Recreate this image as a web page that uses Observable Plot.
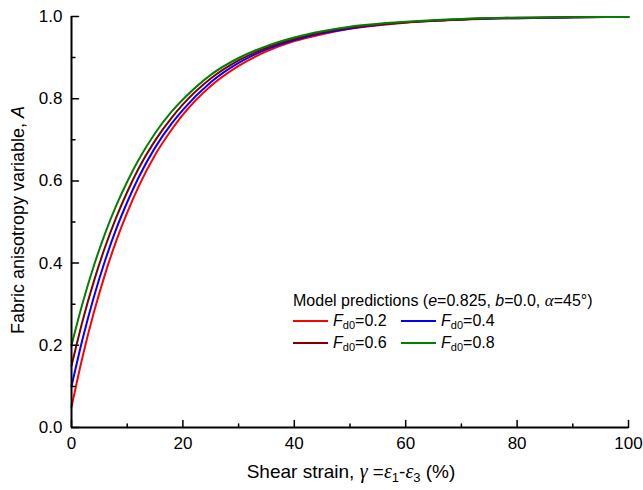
<!DOCTYPE html>
<html><head><meta charset="utf-8">
<script src="https://cdn.jsdelivr.net/npm/d3@7"></script>
<script src="https://cdn.jsdelivr.net/npm/@observablehq/plot@0.6"></script>
<style>
body{margin:0;background:#fff}
#chart{position:relative;width:643px;height:490px}
</style>
</head><body><div id="chart"></div>
<script>
// Shear strain (%) sample positions
const strain = [0,2,4,6,8,10,12,15,18,20,25,30,35,40,45,50,60,70,80,90,100];
// Fabric anisotropy variable A for each initial Fd0
const A_Fd0_02 = [0.050,0.173,0.279,0.372,0.453,0.523,0.585,0.663,0.725,0.761,0.831,0.880,0.915,0.940,0.957,0.970,0.985,0.992,0.996,0.998,0.999];
const A_Fd0_04 = [0.100,0.216,0.317,0.405,0.482,0.548,0.607,0.681,0.740,0.773,0.840,0.887,0.920,0.943,0.960,0.971,0.986,0.993,0.996,0.998,0.999];
const A_Fd0_06 = [0.150,0.260,0.355,0.438,0.510,0.573,0.629,0.698,0.754,0.786,0.849,0.893,0.924,0.946,0.962,0.973,0.986,0.993,0.997,0.998,0.999];
const A_Fd0_08 = [0.200,0.303,0.393,0.471,0.539,0.598,0.650,0.716,0.769,0.798,0.858,0.899,0.928,0.949,0.964,0.975,0.987,0.994,0.997,0.998,0.999];
const seriesLabels = ["0.2","0.4","0.6","0.8"];
const seriesColors = ["#ff0000","#0000ff","#800000","#008000"];
const xMajor = [0,20,40,60,80,100];
const xMinor = [10,30,50,70,90];
const yMajor = [0,0.2,0.4,0.6,0.8,1.0];
const yMinor = [0.1,0.3,0.5,0.7,0.9];

const allSeries = [A_Fd0_02, A_Fd0_04, A_Fd0_06, A_Fd0_08];
const data = [];
allSeries.forEach((vals, i) => vals.forEach((v, j) => data.push({x: strain[j], y: v, s: seriesLabels[i]})));

const tickShape = {draw(ctx, l){ ctx.moveTo(0,0); ctx.lineTo(0,-l); }};
const FONT = "'Liberation Sans', Arial, Helvetica, sans-serif";

const plot = Plot.plot({
  width: 643, height: 490,
  marginLeft: 71, marginRight: 15, marginTop: 16, marginBottom: 63,
  style: {fontFamily: FONT, fontSize: "17px", color: "#000", background: "#fff"},
  x: {domain: [0,100]},
  y: {domain: [0,1]},
  color: {domain: seriesLabels, range: seriesColors},
  marks: [
    Plot.line(data, {x: "x", y: "y", stroke: "s", z: "s", strokeWidth: 2, curve: "monotone-x"}),
    Plot.ruleY([0], {stroke: "#000", strokeWidth: 2}),
    Plot.ruleX([0], {stroke: "#000", strokeWidth: 2}),
    Plot.vector(xMajor, {x: d => d, y: () => 0, length: 7, rotate: 0, anchor: "start", shape: tickShape, stroke: "#000", strokeWidth: 1.5}),
    Plot.vector(xMinor, {x: d => d, y: () => 0, length: 3.5, rotate: 0, anchor: "start", shape: tickShape, stroke: "#000", strokeWidth: 1.5}),
    Plot.vector(yMajor, {x: () => 0, y: d => d, length: 7, rotate: 90, anchor: "start", shape: tickShape, stroke: "#000", strokeWidth: 1.5}),
    Plot.vector(yMinor, {x: () => 0, y: d => d, length: 3.5, rotate: 90, anchor: "start", shape: tickShape, stroke: "#000", strokeWidth: 1.5}),
    Plot.axisX({ticks: xMajor, tickSize: 0, tickPadding: 9, label: null, tickFormat: d3.format("d"), fontSize: 17}),
    Plot.axisY({ticks: yMajor, tickSize: 0, tickPadding: 9, label: null, tickFormat: d3.format(".1f"), fontSize: 17})
  ]
});
document.getElementById("chart").appendChild(plot);

const svg = d3.select(plot);
const SERIF = "'Liberation Serif', 'Times New Roman', serif";

// X axis title
const xt = svg.append("text").attr("x", 351).attr("y", 478).attr("text-anchor", "middle")
  .attr("font-size", 19).attr("font-family", FONT).attr("fill", "#000");
xt.append("tspan").text("Shear strain, ");
xt.append("tspan").attr("font-family", SERIF).attr("font-style", "italic").attr("font-size", 20).text("\u03B3");
xt.append("tspan").text(" =");
xt.append("tspan").attr("font-family", SERIF).attr("font-style", "italic").attr("font-size", 20).text("\u03B5");
xt.append("tspan").attr("font-size", 13).attr("dy", 4).text("1");
xt.append("tspan").attr("dy", -4).text("-");
xt.append("tspan").attr("font-family", SERIF).attr("font-style", "italic").attr("font-size", 20).text("\u03B5");
xt.append("tspan").attr("font-size", 13).attr("dy", 4).text("3");
xt.append("tspan").attr("dy", -4).text(" (%)");

// Y axis title
const yt = svg.append("text").attr("transform", "translate(24,220) rotate(-90)").attr("text-anchor", "middle")
  .attr("font-size", 18).attr("font-family", FONT).attr("fill", "#000");
yt.append("tspan").text("Fabric anisotropy variable, ");
yt.append("tspan").attr("font-style", "italic").text("A");

// Legend
const lg = svg.append("g").attr("font-family", FONT).attr("font-size", 16).attr("fill", "#000").attr("text-anchor", "start");
const lt = lg.append("text").attr("x", 293).attr("y", 306).attr("text-anchor", "start");
lt.append("tspan").text("Model predictions (");
lt.append("tspan").attr("font-style", "italic").text("e");
lt.append("tspan").text("=0.825, ");
lt.append("tspan").attr("font-style", "italic").text("b");
lt.append("tspan").text("=0.0, ");
lt.append("tspan").attr("font-style", "italic").attr("font-family", SERIF).attr("font-size", 17).text("\u03B1");
lt.append("tspan").text("=45\u00B0)");
const pos = [[293,321],[401,321],[293,343],[401,343]];
seriesLabels.forEach((lab, i) => {
  const [px, py] = pos[i];
  lg.append("line").attr("x1", px).attr("x2", px + 35).attr("y1", py).attr("y2", py)
    .attr("stroke", seriesColors[i]).attr("stroke-width", 2);
  const t = lg.append("text").attr("x", px + 40).attr("y", py + 5).attr("text-anchor", "start");
  t.append("tspan").attr("font-style", "italic").text("F");
  t.append("tspan").attr("font-size", 11).attr("dy", 3).text("d0");
  t.append("tspan").attr("dy", -3).text("=" + lab);
});
</script>
</body></html>
